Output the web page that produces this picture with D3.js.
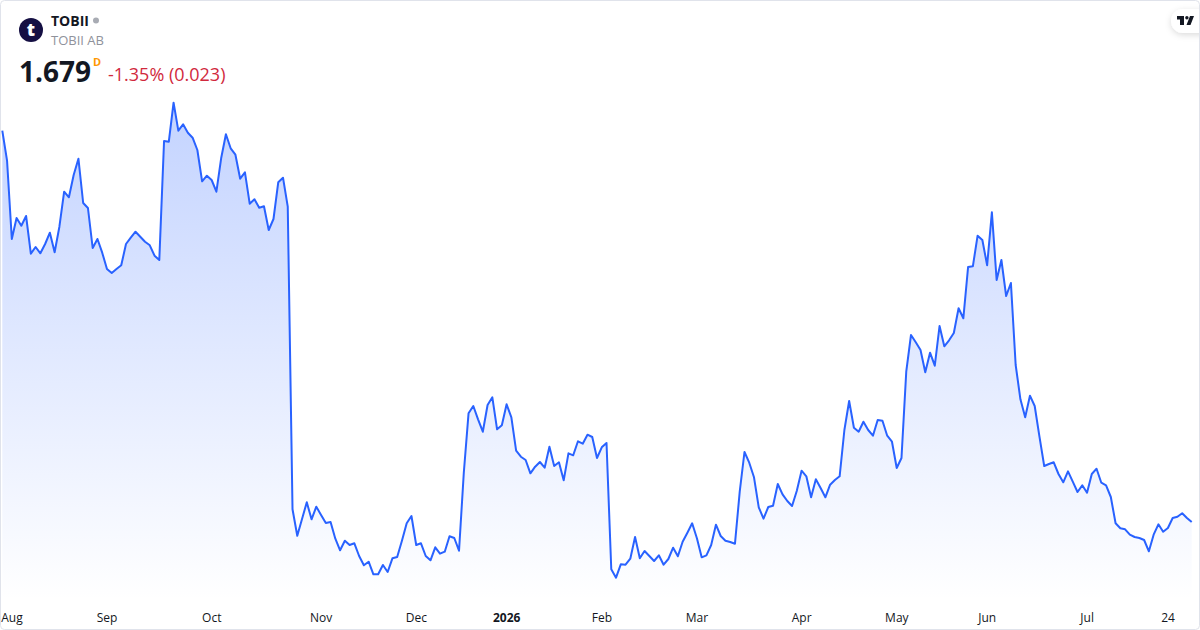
<!DOCTYPE html>
<html><head><meta charset="utf-8">
<script src="https://cdn.jsdelivr.net/npm/d3@7"></script>
<style>html,body{margin:0;padding:0;background:#fff}svg{display:block}text{font-family:"Open Sans",sans-serif}</style>
</head><body><svg id="c" width="1200" height="630"></svg>
<script>
const prices = [5.593,5.293,4.51,4.72,4.643,4.74,4.363,4.43,4.367,4.46,4.573,4.377,4.633,4.983,4.927,5.15,5.313,4.87,4.82,4.42,4.51,4.373,4.21,4.17,4.21,4.247,4.46,4.523,4.583,4.533,4.483,4.447,4.343,4.30,5.49,5.483,5.873,5.593,5.657,5.573,5.523,5.40,5.087,5.143,5.10,4.983,5.317,5.557,5.417,5.353,5.113,5.177,4.863,4.907,4.823,4.837,4.60,4.71,5.077,5.123,4.833,
1.807,1.543,1.71,1.877,1.707,1.833,1.75,1.67,1.68,1.513,1.397,1.493,1.45,1.467,1.34,1.247,1.283,1.157,1.157,1.25,1.18,1.317,1.33,1.493,1.667,1.74,1.45,1.467,1.34,1.297,1.427,1.363,1.383,1.537,1.52,1.393,
2.17,2.767,2.84,2.707,2.583,2.85,2.927,2.607,2.647,2.857,2.727,2.393,2.333,2.30,2.167,2.233,2.28,2.223,2.433,2.24,2.277,2.097,2.367,2.347,2.487,2.463,2.553,2.53,2.32,2.427,2.47,
1.207,1.123,1.257,1.253,1.313,1.53,1.317,1.39,1.34,1.29,1.347,1.253,1.31,1.423,1.337,1.483,1.573,1.667,1.517,1.327,1.347,1.45,1.653,1.54,1.493,1.48,1.463,
1.983,2.38,2.273,2.127,1.827,1.713,1.83,1.843,2.06,1.957,1.89,1.84,1.993,2.193,2.137,1.927,2.107,2.02,1.927,2.053,2.10,2.137,
2.60,2.89,2.623,2.583,2.683,2.60,2.543,2.70,2.693,2.543,2.483,2.22,
2.32,3.183,3.55,3.477,3.40,3.177,3.373,3.243,3.64,3.437,3.497,3.57,3.817,3.717,4.23,4.237,4.543,4.50,4.247,4.777,4.10,4.30,3.94,4.07,3.25,
2.907,2.727,2.943,2.84,2.533,2.24,2.26,2.277,2.16,2.077,2.187,2.083,1.98,2.047,1.973,2.16,2.213,2.073,2.047,1.93,1.667,1.617,1.607,1.553,1.53,1.52,1.50,1.387,1.553,1.657,1.583,1.62,1.72,1.733,1.767,1.72,1.679];
const tickIndex = [2,22,44,67,87,106,126,146,168,188,207,228,245];
const tickLabels = ["Aug","Sep","Oct","Nov","Dec","2026","Feb","Mar","Apr","May","Jun","Jul","24"];
const boldLabels = ["2026"];
const symbol = "TOBII", company = "TOBII AB", lastPrice = "1.679", interval = "D", change = "-1.35% (0.023)";

const svg = d3.select("#c");
const x = d3.scaleLinear().domain([0, prices.length - 1]).range([2.3, 1191.7]);
const y = d3.scaleLinear().domain([1.1, 5.9]).range([580, 100]);
const baseY = 600;

const defs = svg.append("defs");
const g = defs.append("linearGradient").attr("id","fill").attr("gradientUnits","userSpaceOnUse")
  .attr("x1",0).attr("x2",0).attr("y1",y(5.873)).attr("y2",baseY);
g.append("stop").attr("offset",0).attr("stop-color","#2962ff").attr("stop-opacity",0.28);
g.append("stop").attr("offset",1).attr("stop-color","#2962ff").attr("stop-opacity",0);
const sh = defs.append("filter").attr("id","sh").attr("x","-30%").attr("y","-50%").attr("width","160%").attr("height","220%");
sh.append("feDropShadow").attr("dx",0).attr("dy",2).attr("stdDeviation",3).attr("flood-color","#000").attr("flood-opacity",0.14);

svg.append("path").datum(prices)
  .attr("fill","url(#fill)")
  .attr("d", d3.area().x((d,i)=>x(i)).y0(baseY).y1(d=>y(d)));
svg.append("path").datum(prices)
  .attr("fill","none").attr("stroke","#2962ff").attr("stroke-width",2).attr("stroke-linejoin","round")
  .attr("d", d3.line().x((d,i)=>x(i)).y(d=>y(d)));

const axis = d3.axisBottom(x).tickValues(tickIndex).tickSize(0).tickPadding(0)
  .tickFormat((d,i)=>tickLabels[i]);
const ax = svg.append("g").attr("transform","translate(-0.4,613)").call(axis);
ax.select(".domain").remove();
ax.selectAll("text").attr("font-size",12).attr("fill","#131722").attr("font-family",'"Open Sans",sans-serif')
  .attr("font-weight",t=>boldLabels.includes(tickLabels[tickIndex.indexOf(t)])?700:400);

// header
svg.append("circle").attr("cx",31).attr("cy",30).attr("r",12).attr("fill","#150f43");
svg.append("text").attr("x",31).attr("y",36).attr("text-anchor","middle").attr("font-size",18).attr("font-weight",800).attr("fill","#fff").text("t");
svg.append("text").attr("x",51).attr("y",26).attr("font-size",14).attr("font-weight",700).attr("fill","#131722").text(symbol);
svg.append("circle").attr("cx",96).attr("cy",20.5).attr("r",3).attr("fill","#a8abb3");
svg.append("text").attr("x",51).attr("y",45).attr("font-size",13).attr("fill","#8f929b").text(company);
svg.append("text").attr("x",19).attr("y",82).attr("font-size",28).attr("font-weight",700).attr("fill","#131722").text(lastPrice);
svg.append("text").attr("x",93).attr("y",66).attr("font-size",11).attr("font-weight",700).attr("fill","#ff9800").text(interval);
svg.append("text").attr("x",108).attr("y",81).attr("font-size",18).attr("fill","#d1293d").text(change);

// watermark
svg.append("rect").attr("x",1171).attr("y",9).attr("width",50).attr("height",24).attr("rx",12).attr("fill","#fff").attr("filter","url(#sh)");
svg.append("path").attr("fill","#131722").attr("transform","translate(1177,12.4) scale(0.5,0.6)")
  .attr("d","M14 6H0v6h6v9h8V6zM19 21L26 6h8L27 21z");
svg.append("circle").attr("cx",1186.9).attr("cy",17.8).attr("r",1.7).attr("fill","#131722");

// frame
svg.append("rect").attr("x",0.5).attr("y",0.5).attr("width",1199).attr("height",629).attr("rx",4)
  .attr("fill","none").attr("stroke","#e0e3eb");
</script></body></html>
